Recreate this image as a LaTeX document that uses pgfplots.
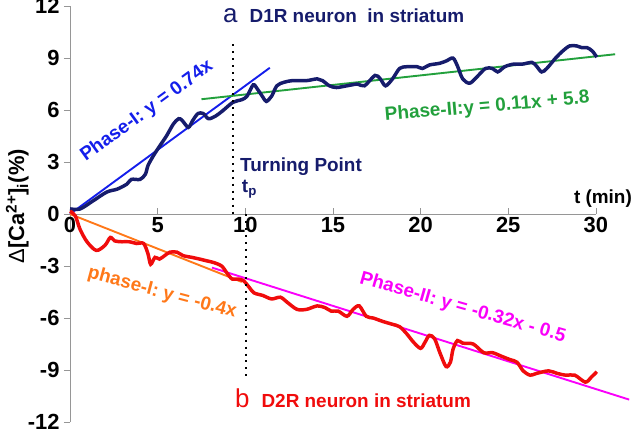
\documentclass[border=0pt]{standalone}
\usepackage{fontspec}
\setmainfont{Liberation Sans}
\usepackage{pgfplots}
\pgfplotsset{compat=1.18}

\definecolor{navy}{RGB}{22,28,108}
\definecolor{fitblue}{RGB}{20,30,235}
\definecolor{fitgreen}{RGB}{34,160,60}
\definecolor{curvered}{RGB}{240,12,12}
\definecolor{fitorange}{RGB}{255,120,25}
\definecolor{fitmag}{RGB}{250,0,250}
\definecolor{axgray}{RGB}{150,150,150}

\newcommand{\lbl}{\bfseries\fontsize{19}{21}\selectfont}

\begin{document}
\begin{tikzpicture}
\path[use as bounding box] (-70bp,-10bp) rectangle (570bp,422bp);
\begin{axis}[
  x=17.53bp, y=17.33bp,
  xmin=0, xmax=30, ymin=-12, ymax=12,
  axis x line=middle, axis y line=left,
  hide obscured x ticks=false,
  axis line style={axgray, line width=0.8pt, -},
  every tick/.style={axgray, line width=0.8pt},
  major tick length=6bp,
  xtick={0,5,...,30}, ytick={-12,-9,...,12},
  xtick align=inside, ytick align=outside,
  /pgf/number format/assume math mode=true,
  ticklabel style={font=\bfseries\fontsize{22}{22}\selectfont},
  yticklabel style={xshift=-1bp},
  clip=false,
]
% fitted lines
\addplot[fitblue, line width=1.9pt] coordinates {(0,0) (11.4,8.44)};
\addplot[fitgreen, line width=1.9pt] coordinates {(7.5,6.625) (31.1,9.221)};
\addplot[fitorange, line width=1.9pt] coordinates {(0,0) (9.8,-3.92)};
\addplot[fitmag, line width=1.9pt] coordinates {(8.1,-3.092) (31.9,-10.708)};

% D1R neuron
\addplot[navy, line width=3.5pt, smooth, tension=0.5] coordinates {
(0,0.3) (0.57,0.29) (1.3,0.75) (2.1,1.27) (2.7,1.44) (3.25,1.73) (3.5,2.0) (4.0,2.0)
(4.3,2.3) (4.45,2.8) (4.75,3.35) (5.1,3.9) (5.5,4.5) (5.9,5.2) (6.2,5.5) (6.4,5.4)
(6.75,5.0) (7.0,5.4) (7.3,5.8) (7.6,5.8) (7.9,5.5) (8.3,5.65) (8.7,5.95) (9.3,6.45)
(9.8,6.6) (10.1,6.8) (10.45,7.45) (10.7,7.2) (11.0,6.75) (11.2,6.5) (11.5,6.8) (11.8,7.4)
(12.2,7.6) (12.7,7.7) (13.5,7.7) (14.1,7.8) (14.4,7.7) (14.8,7.4) (15.2,7.3) (15.8,7.4)
(16.4,7.5) (16.8,7.4) (17.4,8.0) (17.7,7.8) (18.0,7.4) (18.4,7.8) (18.8,8.4) (19.2,8.5)
(19.8,8.5) (20.1,8.4) (20.5,8.6) (21.1,8.7) (21.5,8.85) (21.85,9.0) (22.1,8.55) (22.4,7.8)
(22.8,7.55) (23.2,7.9) (23.7,8.4) (24.1,8.4) (24.4,8.2) (24.8,8.5) (25.3,8.65) (25.8,8.65)
(26.35,8.75) (26.6,8.55) (26.9,8.2) (27.2,8.4) (27.7,9.0) (28.1,9.4) (28.5,9.7) (28.9,9.7)
(29.2,9.6) (29.5,9.6) (29.8,9.4) (30.05,9.05)
};

% D2R neuron
\addplot[curvered, line width=3.5pt, smooth, tension=0.5] coordinates {
(0,0.17) (0.3,-0.1) (0.57,-0.87) (0.97,-1.6) (1.5,-2.1) (2.0,-1.8) (2.3,-1.35) (2.55,-1.55)
(2.95,-1.6) (3.4,-1.6) (3.8,-1.7) (4.2,-1.7) (4.45,-2.3) (4.6,-2.9) (4.85,-2.5) (5.1,-2.6)
(5.4,-2.4) (5.7,-2.2) (6.1,-2.2) (6.45,-2.4) (6.95,-2.5) (7.4,-2.6) (7.8,-2.7) (8.2,-2.8)
(8.65,-3.0) (8.95,-3.4) (9.25,-3.75) (9.6,-3.75) (9.9,-3.85) (10.2,-4.2) (10.5,-4.55) (11.0,-4.7)
(11.5,-4.9) (12.0,-4.8) (12.4,-5.1) (12.95,-5.5) (13.5,-5.5) (14.1,-5.3) (14.55,-5.4) (14.9,-5.6)
(15.3,-5.6) (15.8,-5.9) (16.15,-5.5) (16.5,-5.3) (16.9,-5.9) (17.3,-6.0) (17.85,-6.2) (18.35,-6.35)
(18.8,-6.5) (19.2,-6.9) (19.6,-7.4) (20.0,-7.75) (20.25,-7.4) (20.5,-7.0) (20.8,-7.2) (21.1,-8.0)
(21.45,-8.8) (21.7,-8.55) (21.85,-7.8) (22.1,-7.3) (22.4,-7.45) (23.0,-7.5) (23.6,-8.0) (24.1,-8.0)
(24.6,-8.2) (25.1,-8.4) (25.5,-8.55) (25.85,-9.05) (26.25,-9.3) (26.6,-9.2) (27.3,-9.05) (27.8,-9.2)
(28.3,-9.3) (28.8,-9.3) (29.4,-9.7) (29.75,-9.4) (30.05,-9.1)
};

% turning point markers
\addplot[black, line width=2pt, dash pattern=on 2pt off 5pt] coordinates {(9.3,9.8) (9.3,0)};
\addplot[black, line width=2pt, dash pattern=on 2pt off 5pt] coordinates {(10.05,0) (10.05,-9.6)};

% annotations
\node[anchor=base west, navy, inner sep=0pt] at (axis cs:8.73,11.08)
  {{\fontsize{26}{26}\selectfont a}\hspace{12bp}\lbl D1R neuron\ \ in striatum};
\node[fitblue, rotate=36, inner sep=0pt] at (axis cs:4.39,5.94) {\lbl Phase-I: y = 0.74x};
\node[fitgreen, rotate=5, inner sep=0pt] at (axis cs:23.8,6.17) {\lbl Phase-II:y = 0.11x + 5.8};
\node[navy, anchor=west, inner sep=0pt] at (axis cs:9.7,2.71) {\lbl Turning Point};
\node[navy, anchor=west, inner sep=0pt] at (axis cs:9.8,1.44) {\lbl t\textsubscript{p}};
\node[black, inner sep=0pt] at (axis cs:30.4,0.87) {\lbl t (min)};
\node[fitorange, rotate=-15, inner sep=0pt] at (axis cs:5.25,-4.56) {\lbl phase-I: y = -0.4x};
\node[fitmag, rotate=-16, inner sep=0pt] at (axis cs:22.4,-5.42) {\lbl Phase-II: y = -0.32x - 0.5};
\node[anchor=base west, curvered, inner sep=0pt] at (axis cs:9.41,-11.14)
  {{\fontsize{26}{26}\selectfont b}\hspace{12bp}\lbl D2R neuron in striatum};
\node[rotate=90, inner sep=0pt] at (axis cs:-3.0,0.45)
  {\bfseries\fontsize{22}{24}\selectfont{\mdseries Δ}[Ca\textsuperscript{2+}]\textsubscript{i}(\%)};
\end{axis}
\end{tikzpicture}
\end{document}
